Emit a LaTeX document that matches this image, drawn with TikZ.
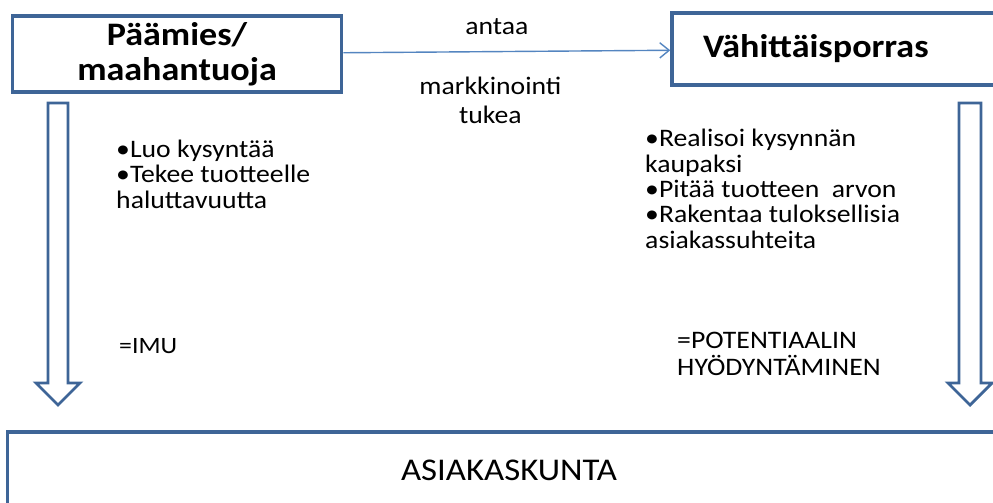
\documentclass[tikz,border=0pt]{standalone}
\usepackage{fontspec}
\setmainfont{Carlito}[FakeStretch=1.1]
\usepackage{tikz}
\usetikzlibrary{positioning, arrows.meta}
\definecolor{boxblue}{RGB}{62,101,151}
\definecolor{linkblue}{RGB}{84,133,192}

\begin{document}
\begin{tikzpicture}[x=0.03cm, y=-0.03cm,
    box/.style={rectangle, draw=boxblue, line width=3pt, fill=white, font=\fontsize{28}{30}\selectfont\bfseries},
    txt/.style={align=left, inner sep=0pt, font=\fontsize{21.5}{21.6}\selectfont},
    hollow/.style={draw=boxblue, line width=2.4pt, fill=white, line join=miter},
    arrow/.style={-{Straight Barb[length=8pt, width=13pt]}, draw=linkblue, line width=1.2pt}
]
\useasboundingbox (0,0) rectangle (993,502);
\clip (0,0) rectangle (993,502);

% top row
\node[box, minimum width=9.87cm, minimum height=2.28cm, align=center] (paamies) at (177,54) {Päämies/\\maahantuoja};
\node[box, minimum width=10.14cm, minimum height=2.16cm, text width=8.28cm, inner xsep=0.93cm, align=left] (vahittais) at (841,49) {Vähittäisporras};

\draw[arrow] (paamies) -- (vahittais)
    node[txt, pos=0.47, above=13.5pt] (antaa) {antaa}
    node[txt, pos=0.45, below=21pt, align=center, font=\fontsize{21.5}{24.6}\selectfont] (tuki) {markkinointi\\tukea};

% texts
\node[txt, anchor=base west] (luo) at (116,208) {•Luo kysyntää\\•Tekee tuotteelle\\haluttavuutta};
\node[txt, anchor=base west, font=\fontsize{20}{20}\selectfont] (imu) at (119,353) {=IMU};
\node[txt, anchor=base west] (realisoi) at (645,248) {•Realisoi kysynnän\\kaupaksi\\•Pitää tuotteen\ \ arvon\\•Rakentaa tuloksellisia\\asiakassuhteita};
\node[txt, anchor=base west, font=\fontsize{21.5}{23}\selectfont] (potentiaali) at (677,375) {=POTENTIAALIN\\HYÖDYNTÄMINEN};

% hollow arrows
\draw[hollow] (48,103) -- (68,103) -- (68,383) -- (80,383) -- (58,405) -- (36,383) -- (48,383) -- cycle;
\draw[hollow] (959,103) -- (981,103) -- (981,383) -- (992,383) -- (970,405) -- (948,383) -- (959,383) -- cycle;

% bottom
\node[box, minimum width=30.09cm, minimum height=2.28cm, font=\fontsize{27}{30}\selectfont] (asiakas) at (509,470) {ASIAKASKUNTA};

\end{tikzpicture}
\end{document}
